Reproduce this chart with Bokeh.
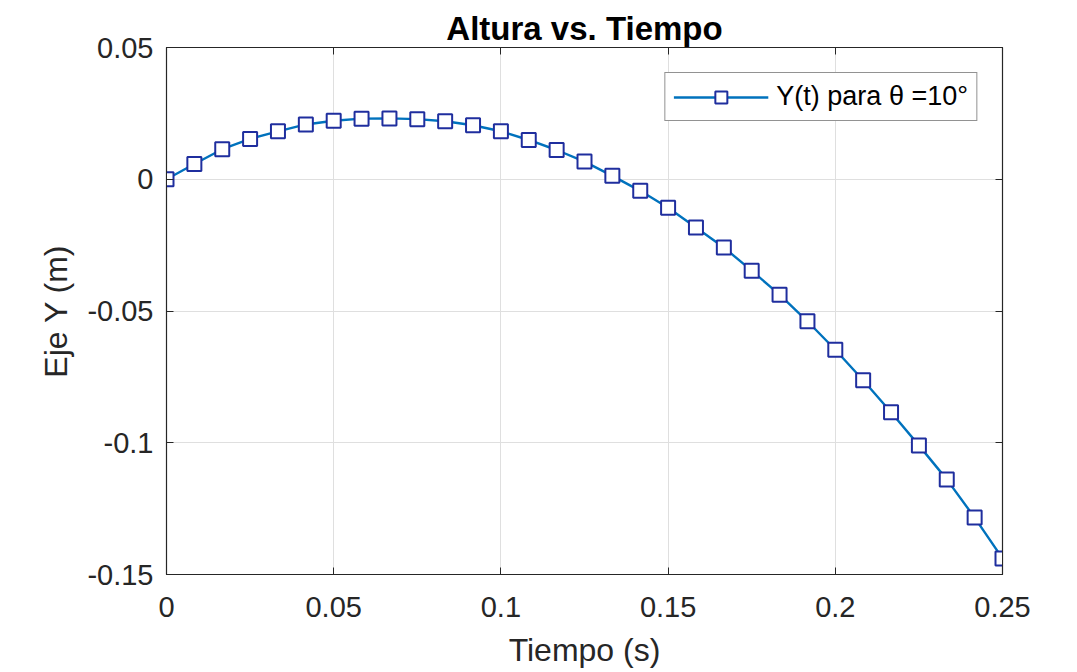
from bokeh.plotting import figure
from bokeh.models import FixedTicker, Range1d, Legend, LegendItem, LinearAxis
from bokeh.embed import file_html
from bokeh.resources import INLINE

# ---- data ----
tiempo = [0.0, 0.00833, 0.01667, 0.025, 0.03333, 0.04167, 0.05, 0.05833, 0.06667, 0.075,
          0.08333, 0.09167, 0.1, 0.10833, 0.11667, 0.125, 0.13333, 0.14167, 0.15, 0.15833,
          0.16667, 0.175, 0.18333, 0.19167, 0.2, 0.20833, 0.21667, 0.225, 0.23333, 0.24167, 0.25]
altura = [0.0, 0.0058, 0.0114, 0.0153, 0.0182, 0.0208, 0.0222, 0.0230, 0.0231, 0.0228,
          0.0220, 0.0205, 0.0182, 0.0149, 0.0111, 0.0067, 0.0013, -0.0044, -0.0108, -0.0183,
          -0.0259, -0.0347, -0.0438, -0.0539, -0.0647, -0.0763, -0.0884, -0.1010, -0.1139, -0.1284, -0.1439]

x_ticks = [0.0, 0.05, 0.1, 0.15, 0.2, 0.25]
x_tick_labels = ["0", "0.05", "0.1", "0.15", "0.2", "0.25"]
y_ticks = [-0.15, -0.1, -0.05, 0.0, 0.05]
y_tick_labels = ["-0.15", "-0.1", "-0.05", "0", "0.05"]

title_text = "Altura vs. Tiempo"
x_label = "Tiempo (s)"
y_label = "Eje Y (m)"
series_label = "Y(t) para \u03b8 =10\u00b0"

FONT = "Liberation Sans"
AX = "#262626"

p = figure(width=1069, height=672, output_backend="svg", toolbar_location=None,
           x_range=Range1d(0, 0.25), y_range=Range1d(-0.15, 0.05),
           min_border_left=166, min_border_right=67, min_border_top=47, min_border_bottom=98)

p.title.text = title_text
p.title.align = "center"
p.title.text_font = FONT
p.title.text_font_size = "33px"
p.title.text_font_style = "bold"
p.title.text_color = "#000000"
p.title.standoff = 2

p.outline_line_color = AX
p.outline_line_width = 1.2
p.background_fill_color = "white"
p.border_fill_color = "white"

for ax, ticks, labels in ((p.xaxis[0], x_ticks, x_tick_labels), (p.yaxis[0], y_ticks, y_tick_labels)):
    ax.ticker = FixedTicker(ticks=ticks)
    ax.major_label_overrides = {t: l for t, l in zip(ticks, labels)}
    ax.minor_tick_line_color = None
    ax.major_tick_in = 7
    ax.major_tick_out = 0
    ax.major_tick_line_color = AX
    ax.axis_line_color = AX
    ax.major_label_text_font = FONT
    ax.major_label_text_font_size = "29px"
    ax.major_label_text_color = AX
    ax.axis_label_text_font = FONT
    ax.axis_label_text_font_size = "32px"
    ax.axis_label_text_font_style = "normal"
    ax.axis_label_text_color = AX

p.xaxis.axis_label = x_label
p.yaxis.axis_label = y_label
p.xaxis.major_label_standoff = 22
p.xaxis.axis_label_standoff = 12
p.yaxis.major_label_standoff = 13
p.yaxis.axis_label_standoff = 10

# mirrored box ticks on the right and top sides
r_ax = LinearAxis(ticker=FixedTicker(ticks=y_ticks), major_tick_in=7, major_tick_out=0,
                  major_tick_line_color=AX, axis_line_color=AX, minor_tick_line_color=None,
                  major_label_overrides={t: "" for t in y_ticks}, major_label_standoff=0)
p.add_layout(r_ax, "right")
t_ax = LinearAxis(ticker=FixedTicker(ticks=x_ticks), major_tick_in=7, major_tick_out=0,
                  major_tick_line_color=AX, axis_line_color=AX, minor_tick_line_color=None,
                  major_label_overrides={t: "" for t in x_ticks}, major_label_standoff=0)
p.add_layout(t_ax, "above")

p.xgrid.grid_line_color = "#dfdfdf"
p.ygrid.grid_line_color = "#dfdfdf"
p.xgrid.grid_line_width = 1
p.ygrid.grid_line_width = 1

ln = p.line(tiempo, altura, line_color="#0072BD", line_width=2.4)
mk = p.scatter(tiempo, altura, marker="square", size=14, fill_color="white",
               line_color="#1f2e9e", line_width=2)

legend = Legend(items=[LegendItem(label=series_label, renderers=[ln, mk])],
                location="top_right", margin=25, padding=8, spacing=0,
                glyph_width=95, glyph_height=30, label_height=30, label_standoff=8,
                label_text_font=FONT, label_text_font_size="27px", label_text_color="#000000",
                border_line_color=AX, border_line_width=1.2, background_fill_alpha=1.0)
p.add_layout(legend, "center")

open("out.html", "w").write(file_html(p, INLINE))
